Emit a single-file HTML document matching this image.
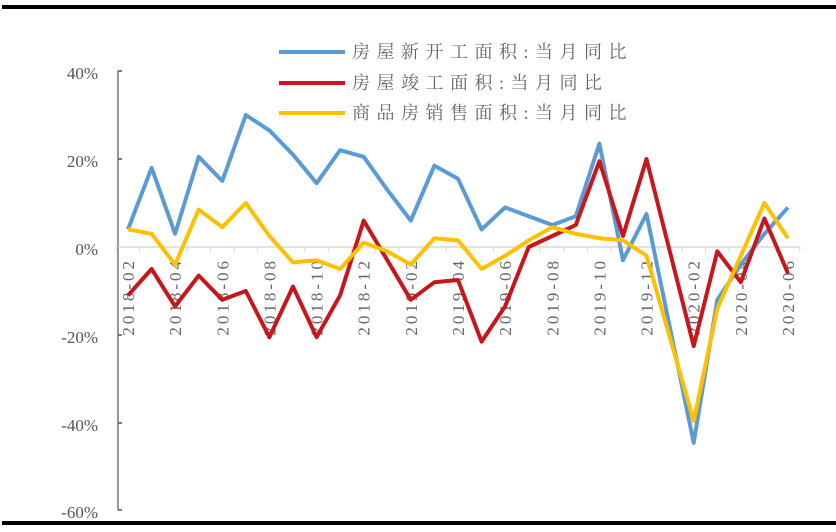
<!DOCTYPE html>
<html><head><meta charset="utf-8"><style>
html,body{margin:0;padding:0;background:#fff;}
svg{display:block;}
</style></head><body>
<svg width="836" height="532" xmlns="http://www.w3.org/2000/svg">
<rect x="0" y="0" width="836" height="532" fill="#fff"/>
<rect x="2" y="5" width="834" height="4" fill="#000"/>
<rect x="2" y="521" width="834" height="4" fill="#000"/>
<g font-family="Liberation Serif, serif" font-size="17" fill="#555" text-anchor="end">
<text x="98" y="79">40%</text>
<text x="98" y="167">20%</text>
<text x="98" y="255">0%</text>
<text x="98" y="343">-20%</text>
<text x="98" y="431">-40%</text>
<text x="98" y="518">-60%</text>
</g>
<line x1="118" y1="71" x2="118" y2="510" stroke="#555" stroke-width="1.2"/>
<g stroke="#555" stroke-width="1.5">
<line x1="118" y1="71" x2="122" y2="71"/><line x1="118" y1="159" x2="122" y2="159"/>
<line x1="118" y1="335" x2="122" y2="335"/><line x1="118" y1="423" x2="122" y2="423"/><line x1="118" y1="510" x2="122" y2="510"/>
</g>
<line x1="118" y1="247" x2="800" y2="247" stroke="#d9d9d9" stroke-width="1.5"/>
<g id="ticks" stroke="#d9d9d9" stroke-width="1"></g>
<g id="labels" font-family="Liberation Serif, serif" font-size="17" fill="#666" letter-spacing="3"></g>
<g id="series" fill="none" stroke-width="4" stroke-linejoin="round"></g>
<g font-family="Liberation Serif, 'Noto Serif CJK SC', serif" font-size="18" fill="#666" letter-spacing="6.5">
<line x1="279" y1="52" x2="345" y2="52" stroke="#5B9BD5" stroke-width="4"/>
<text x="352" y="58">房屋新开工面积:当月同比</text>
<line x1="279" y1="83" x2="345" y2="83" stroke="#C8161D" stroke-width="4"/>
<text x="352" y="89">房屋竣工面积:当月同比</text>
<line x1="279" y1="113" x2="345" y2="113" stroke="#FFC000" stroke-width="4"/>
<text x="352" y="119">商品房销售面积:当月同比</text>
</g>
</svg>
<script>
var x0=128,dx=23.57,y0=247,k=4.4,ns="http://www.w3.org/2000/svg";
function X(i){return x0+i*dx;}
var blue=[4,18,3,20.5,15,30,26.5,21,14.5,22,20.5,13,6,18.5,15.5,4,9,7,5,7,23.5,-3,7.5,null,-44.5,-12,-4,3,9];
var red=[-11,-5,-13.5,-6.5,-12,-10,-20.5,-9,-20.5,-11,6,-3,-12,-8,-7.5,-21.5,-13.5,0,2.5,5,19.5,2.5,20,null,-22.5,-1,-8,6.5,-6];
var yel=[4,3,-4,8.5,4.5,10,2.5,-3.5,-3,-5,1,-1,-4,2,1.5,-5,-2,1.5,4.5,3,2,1.5,-2,null,-39.5,-14,-2,10,2];
function path(d,c){var s="";d.forEach(function(v,i){if(v===null)return;s+=(s?"L":"M")+X(i).toFixed(1)+" "+(y0-v*k).toFixed(1);});
var p=document.createElementNS(ns,"path");p.setAttribute("d",s);p.setAttribute("stroke",c);document.getElementById("series").appendChild(p);}
path(blue,"#5B9BD5");path(red,"#C8161D");path(yel,"#FFC000");
var names=["2018-02","2018-04","2018-06","2018-08","2018-10","2018-12","2019-02","2019-04","2019-06","2019-08","2019-10","2019-12","2020-02","2020-04","2020-06"];
var L=document.getElementById("labels"),T=document.getElementById("ticks");
for(var i=0;i<=29;i++){var l=document.createElementNS(ns,"line");var tx=X(i)-dx/2;l.setAttribute("x1",tx);l.setAttribute("x2",tx);l.setAttribute("y1",247);l.setAttribute("y2",252);T.appendChild(l);}
names.forEach(function(n,j){var i=j*2;var t=document.createElementNS(ns,"text");var x=X(i)+6,y=258;
t.setAttribute("transform","translate("+x+","+y+") rotate(-90)");t.setAttribute("text-anchor","end");t.textContent=n;L.appendChild(t);});
</script>
</body></html>
